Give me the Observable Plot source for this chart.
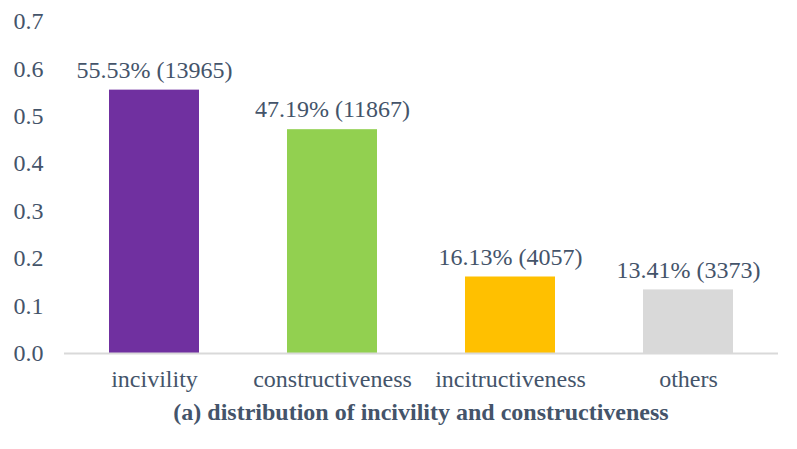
<!DOCTYPE html>
<html>
<head>
<meta charset="utf-8">
<script src="https://cdn.jsdelivr.net/npm/d3@7"></script>
<script src="https://cdn.jsdelivr.net/npm/@observablehq/plot@0.6"></script>
<style>
  html, body { margin: 0; padding: 0; background: #fff; }
  #chart { width: 797px; }
  #title { font-family: "Liberation Serif", "Times New Roman", serif; font-weight: bold; font-size: 24px; line-height: 28px; color: #44546A; text-align: center; padding-left: 64px; padding-right: 19px; margin-top: 0px; }
</style>
</head>
<body>
<div id="chart"></div>
<div id="title">(a) distribution of incivility and constructiveness</div>
<script>
const categories = ["incivility", "constructiveness", "incitructiveness", "others"];
const values = [0.5553, 0.4719, 0.1613, 0.1341];
const labels = ["55.53% (13965)", "47.19% (11867)", "16.13% (4057)", "13.41% (3373)"];
const colors = ["#7030A0", "#92D050", "#FFC000", "#D9D9D9"];
const yTicks = [0, 0.1, 0.2, 0.3, 0.4, 0.5, 0.6, 0.7];

const data = categories.map((c, i) => ({category: c, value: values[i], label: labels[i]}));

const plot = Plot.plot({
  width: 797,
  height: 398,
  marginTop: 21,
  marginBottom: 45,
  marginLeft: 64,
  marginRight: 19,
  style: { fontFamily: '"Liberation Serif", "Times New Roman", serif', fontSize: "24px", color: "#44546A", background: "white" },
  x: { domain: categories, paddingInner: 0.495, paddingOuter: 0.2475, align: 0.5, label: null },
  y: { domain: [0, 0.7], label: null },
  color: { domain: categories, range: colors },
  marks: [
    Plot.barY(data, { x: "category", y: "value", fill: "category" }),
    Plot.ruleY([0], { stroke: "#D9D9D9", strokeWidth: 2 }),
    Plot.text(data, { x: "category", y: "value", text: "label", dy: -20, fill: "#44546A", fontSize: 24 }),
    Plot.axisY({ ticks: yTicks, tickFormat: d3.format(".1f"), tickSize: 0, tickPadding: 21, textAnchor: "end", fill: "#44546A", fontSize: 24, label: null }),
    Plot.axisX({ tickSize: 0, tickPadding: 16, fill: "#44546A", fontSize: 24, label: null })
  ]
});
document.getElementById("chart").appendChild(plot);
</script>
</body>
</html>
